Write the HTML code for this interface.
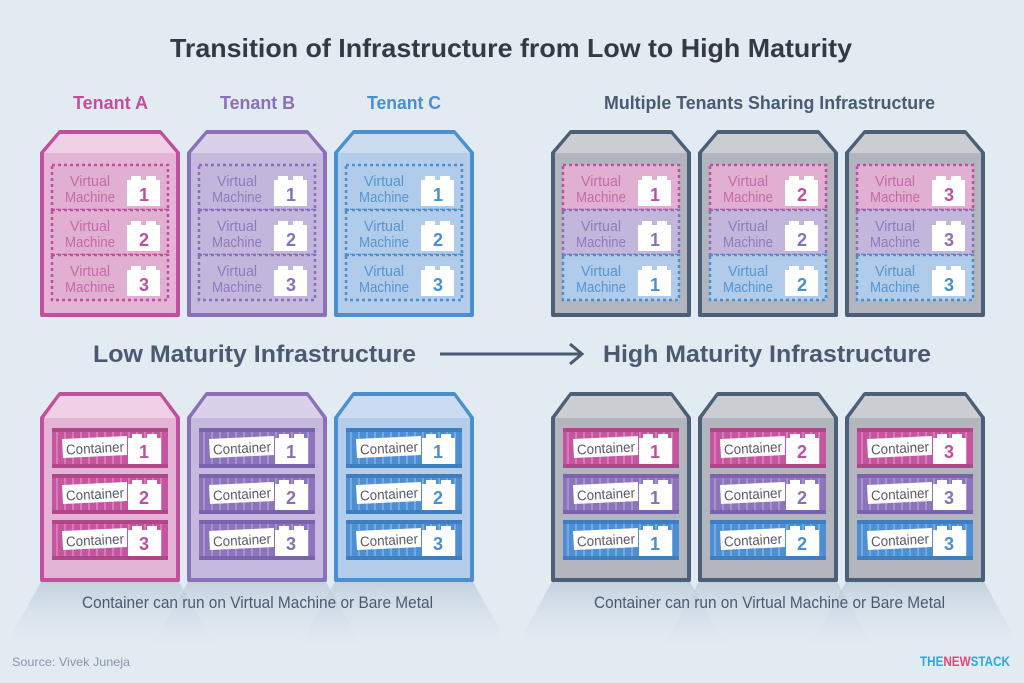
<!DOCTYPE html>
<html><head><meta charset="utf-8"><style>
body{margin:0;background:#e2eaf2}
svg{display:block}
text{font-family:"Liberation Sans",sans-serif}
.vm{font-size:15px;text-anchor:middle}
.n{font-size:18px;font-weight:bold;text-anchor:middle}
.ct{font-size:14px;fill:#5a5a6a;text-anchor:middle}
.pk{fill:#c24f9b}.pu{fill:#8a70b8}.bl{fill:#4a8fd0}
.vpk{fill:#c56aa8}.vpu{fill:#8f7bbd}.vbl{fill:#5596d2}
</style></head><body>
<svg width="1024" height="683" viewBox="0 0 1024 683" xmlns="http://www.w3.org/2000/svg">
<defs>
<linearGradient id="sh" x1="0" y1="0" x2="0" y2="1"><stop offset="0" stop-color="#b9c8d6" stop-opacity=".8"/><stop offset="1" stop-color="#e2eaf2" stop-opacity="0"/></linearGradient>
<symbol id="lego" overflow="visible"><rect x="0" y="4" width="33" height="26" fill="#fff"/><rect x="4" y="0" width="10" height="5" fill="#fff"/><rect x="19" y="0" width="10" height="5" fill="#fff"/></symbol>
<symbol id="topP" overflow="visible"><path d="M18,0H118L136,21V183H0V21Z" fill="#e3b4d6" stroke="#c24f9b" stroke-width="4" stroke-linejoin="round"/><path d="M18,2H118L134,21H2Z" fill="#efd0e6"/></symbol>
<symbol id="topU" overflow="visible"><path d="M18,0H118L136,21V183H0V21Z" fill="#c5b9de" stroke="#8a70b8" stroke-width="4" stroke-linejoin="round"/><path d="M18,2H118L134,21H2Z" fill="#d9d0ea"/></symbol>
<symbol id="topB" overflow="visible"><path d="M18,0H118L136,21V183H0V21Z" fill="#b4cdea" stroke="#4a8fd0" stroke-width="4" stroke-linejoin="round"/><path d="M18,2H118L134,21H2Z" fill="#ccdcf0"/></symbol>
<symbol id="topG" overflow="visible"><path d="M18,0H118L136,21V183H0V21Z" fill="#b2b5bd" stroke="#4b5f78" stroke-width="4" stroke-linejoin="round"/><path d="M18,2H118L134,21H2Z" fill="#cbcdd3"/></symbol>
<symbol id="vmP" overflow="visible"><rect x="10" y="0" width="116" height="45" fill="#e1afd2" stroke="#c24f9b" stroke-width="2.5" stroke-dasharray="3 3"/><use href="#lego" x="85" y="11"/></symbol>
<symbol id="vmU" overflow="visible"><rect x="10" y="0" width="116" height="45" fill="#c3b6dc" stroke="#8a70b8" stroke-width="2.5" stroke-dasharray="3 3"/><use href="#lego" x="85" y="11"/></symbol>
<symbol id="vmB" overflow="visible"><rect x="10" y="0" width="116" height="45" fill="#b1cbea" stroke="#4a8fd0" stroke-width="2.5" stroke-dasharray="3 3"/><use href="#lego" x="85" y="11"/></symbol>
<symbol id="botP" overflow="visible"><path d="M18,0H118L136,24V186H0V24Z" fill="#e3b4d6" stroke="#c24f9b" stroke-width="4" stroke-linejoin="round"/><path d="M18,2H118L134,24H2Z" fill="#efd0e6"/></symbol>
<symbol id="botU" overflow="visible"><path d="M18,0H118L136,24V186H0V24Z" fill="#c5b9de" stroke="#8a70b8" stroke-width="4" stroke-linejoin="round"/><path d="M18,2H118L134,24H2Z" fill="#d9d0ea"/></symbol>
<symbol id="botB" overflow="visible"><path d="M18,0H118L136,24V186H0V24Z" fill="#b4cdea" stroke="#4a8fd0" stroke-width="4" stroke-linejoin="round"/><path d="M18,2H118L134,24H2Z" fill="#ccdcf0"/></symbol>
<symbol id="botG" overflow="visible"><path d="M18,0H118L136,24V186H0V24Z" fill="#b2b5bd" stroke="#4b5f78" stroke-width="4" stroke-linejoin="round"/><path d="M18,2H118L134,24H2Z" fill="#cbcdd3"/></symbol>
<pattern id="rP" width="8" height="40" patternUnits="userSpaceOnUse"><rect width="8" height="40" fill="#c5559f"/><rect x="6" width="2" height="40" fill="#d77ab8"/></pattern>
<pattern id="rU" width="8" height="40" patternUnits="userSpaceOnUse"><rect width="8" height="40" fill="#8c74bd"/><rect x="6" width="2" height="40" fill="#a593d0"/></pattern>
<pattern id="rB" width="8" height="40" patternUnits="userSpaceOnUse"><rect width="8" height="40" fill="#4d8fd2"/><rect x="6" width="2" height="40" fill="#75aae0"/></pattern>
<symbol id="cP" overflow="visible"><rect x="10" y="0" width="116" height="40" fill="url(#rP)"/><rect x="10" y="0" width="116" height="4" fill="#b04688"/><rect x="10" y="36" width="116" height="4" fill="#b04688"/><path d="M20,11L85,8V27L21,30Z" fill="#fff"/><use href="#lego" x="86" y="6"/></symbol>
<symbol id="cU" overflow="visible"><rect x="10" y="0" width="116" height="40" fill="url(#rU)"/><rect x="10" y="0" width="116" height="4" fill="#7a62ad"/><rect x="10" y="36" width="116" height="4" fill="#7a62ad"/><path d="M20,11L85,8V27L21,30Z" fill="#fff"/><use href="#lego" x="86" y="6"/></symbol>
<symbol id="cB" overflow="visible"><rect x="10" y="0" width="116" height="40" fill="url(#rB)"/><rect x="10" y="0" width="116" height="4" fill="#3d7dc0"/><rect x="10" y="36" width="116" height="4" fill="#3d7dc0"/><path d="M20,11L85,8V27L21,30Z" fill="#fff"/><use href="#lego" x="86" y="6"/></symbol>
<symbol id="shd" overflow="visible"><path d="M0,0H136L176,72H-40Z" fill="url(#sh)"/></symbol>
<symbol id="vmt" overflow="visible"></symbol>
</defs>
<rect width="1024" height="683" fill="#e2eaf2"/>
<text x="170" y="57" textLength="682" lengthAdjust="spacingAndGlyphs" style="font-size:26px;font-weight:bold" fill="#333a44">Transition of Infrastructure from Low to High Maturity</text>
<g style="font-size:18px;font-weight:bold" lengthAdjust="spacingAndGlyphs">
<text x="73" y="109" class="pk" textLength="75" lengthAdjust="spacingAndGlyphs">Tenant A</text><text x="220" y="109" class="pu" textLength="75" lengthAdjust="spacingAndGlyphs">Tenant B</text><text x="367" y="109" class="bl" textLength="74" lengthAdjust="spacingAndGlyphs">Tenant C</text>
<text x="604" y="109" fill="#4a5a70" textLength="331" lengthAdjust="spacingAndGlyphs">Multiple Tenants Sharing Infrastructure</text></g>

<use href="#shd" x="42" y="580"/><use href="#shd" x="189" y="580"/><use href="#shd" x="336" y="580"/>
<use href="#shd" x="553" y="580"/><use href="#shd" x="700" y="580"/><use href="#shd" x="847" y="580"/>

<!-- TOP LEFT -->
<g transform="translate(42,132)"><use href="#topP"/>
<use href="#vmP" y="33"/><use href="#vmP" y="78"/><use href="#vmP" y="123"/>
<g class="vm vpk"><text x="48" y="54" textLength="40" lengthAdjust="spacingAndGlyphs">Virtual</text><text x="48" y="70" textLength="50" lengthAdjust="spacingAndGlyphs">Machine</text><text x="48" y="99" textLength="40" lengthAdjust="spacingAndGlyphs">Virtual</text><text x="48" y="115" textLength="50" lengthAdjust="spacingAndGlyphs">Machine</text><text x="48" y="144" textLength="40" lengthAdjust="spacingAndGlyphs">Virtual</text><text x="48" y="160" textLength="50" lengthAdjust="spacingAndGlyphs">Machine</text></g>
<g class="n pk"><text x="102" y="69">1</text><text x="102" y="114">2</text><text x="102" y="159">3</text></g></g>
<g transform="translate(189,132)"><use href="#topU"/>
<use href="#vmU" y="33"/><use href="#vmU" y="78"/><use href="#vmU" y="123"/>
<g class="vm vpu"><text x="48" y="54" textLength="40" lengthAdjust="spacingAndGlyphs">Virtual</text><text x="48" y="70" textLength="50" lengthAdjust="spacingAndGlyphs">Machine</text><text x="48" y="99" textLength="40" lengthAdjust="spacingAndGlyphs">Virtual</text><text x="48" y="115" textLength="50" lengthAdjust="spacingAndGlyphs">Machine</text><text x="48" y="144" textLength="40" lengthAdjust="spacingAndGlyphs">Virtual</text><text x="48" y="160" textLength="50" lengthAdjust="spacingAndGlyphs">Machine</text></g>
<g class="n pu"><text x="102" y="69">1</text><text x="102" y="114">2</text><text x="102" y="159">3</text></g></g>
<g transform="translate(336,132)"><use href="#topB"/>
<use href="#vmB" y="33"/><use href="#vmB" y="78"/><use href="#vmB" y="123"/>
<g class="vm vbl"><text x="48" y="54" textLength="40" lengthAdjust="spacingAndGlyphs">Virtual</text><text x="48" y="70" textLength="50" lengthAdjust="spacingAndGlyphs">Machine</text><text x="48" y="99" textLength="40" lengthAdjust="spacingAndGlyphs">Virtual</text><text x="48" y="115" textLength="50" lengthAdjust="spacingAndGlyphs">Machine</text><text x="48" y="144" textLength="40" lengthAdjust="spacingAndGlyphs">Virtual</text><text x="48" y="160" textLength="50" lengthAdjust="spacingAndGlyphs">Machine</text></g>
<g class="n bl"><text x="102" y="69">1</text><text x="102" y="114">2</text><text x="102" y="159">3</text></g></g>

<!-- TOP RIGHT -->
<g transform="translate(553,132)"><use href="#topG"/>
<use href="#vmP" y="33"/><use href="#vmU" y="78"/><use href="#vmB" y="123"/>
<text class="vm vpk" x="48" y="54" textLength="40" lengthAdjust="spacingAndGlyphs">Virtual</text><text class="vm vpk" x="48" y="70" textLength="50" lengthAdjust="spacingAndGlyphs">Machine</text><text class="vm vpu" x="48" y="99" textLength="40" lengthAdjust="spacingAndGlyphs">Virtual</text><text class="vm vpu" x="48" y="115" textLength="50" lengthAdjust="spacingAndGlyphs">Machine</text><text class="vm vbl" x="48" y="144" textLength="40" lengthAdjust="spacingAndGlyphs">Virtual</text><text class="vm vbl" x="48" y="160" textLength="50" lengthAdjust="spacingAndGlyphs">Machine</text>
<text class="n pk" x="102" y="69">1</text><text class="n pu" x="102" y="114">1</text><text class="n bl" x="102" y="159">1</text></g>
<g transform="translate(700,132)"><use href="#topG"/>
<use href="#vmP" y="33"/><use href="#vmU" y="78"/><use href="#vmB" y="123"/>
<text class="vm vpk" x="48" y="54" textLength="40" lengthAdjust="spacingAndGlyphs">Virtual</text><text class="vm vpk" x="48" y="70" textLength="50" lengthAdjust="spacingAndGlyphs">Machine</text><text class="vm vpu" x="48" y="99" textLength="40" lengthAdjust="spacingAndGlyphs">Virtual</text><text class="vm vpu" x="48" y="115" textLength="50" lengthAdjust="spacingAndGlyphs">Machine</text><text class="vm vbl" x="48" y="144" textLength="40" lengthAdjust="spacingAndGlyphs">Virtual</text><text class="vm vbl" x="48" y="160" textLength="50" lengthAdjust="spacingAndGlyphs">Machine</text>
<text class="n pk" x="102" y="69">2</text><text class="n pu" x="102" y="114">2</text><text class="n bl" x="102" y="159">2</text></g>
<g transform="translate(847,132)"><use href="#topG"/>
<use href="#vmP" y="33"/><use href="#vmU" y="78"/><use href="#vmB" y="123"/>
<text class="vm vpk" x="48" y="54" textLength="40" lengthAdjust="spacingAndGlyphs">Virtual</text><text class="vm vpk" x="48" y="70" textLength="50" lengthAdjust="spacingAndGlyphs">Machine</text><text class="vm vpu" x="48" y="99" textLength="40" lengthAdjust="spacingAndGlyphs">Virtual</text><text class="vm vpu" x="48" y="115" textLength="50" lengthAdjust="spacingAndGlyphs">Machine</text><text class="vm vbl" x="48" y="144" textLength="40" lengthAdjust="spacingAndGlyphs">Virtual</text><text class="vm vbl" x="48" y="160" textLength="50" lengthAdjust="spacingAndGlyphs">Machine</text>
<text class="n pk" x="102" y="69">3</text><text class="n pu" x="102" y="114">3</text><text class="n bl" x="102" y="159">3</text></g>

<!-- middle -->
<g style="font-size:24px;font-weight:bold" fill="#4a5a70">
<text x="93" y="362" textLength="323" lengthAdjust="spacingAndGlyphs">Low Maturity Infrastructure</text>
<text x="603" y="362" textLength="328" lengthAdjust="spacingAndGlyphs">High Maturity Infrastructure</text></g>
<line x1="440" y1="354" x2="580" y2="354" stroke="#4a5a70" stroke-width="3"/>
<path d="M570,344L582,354L570,364" fill="none" stroke="#4a5a70" stroke-width="3"/>

<!-- BOTTOM LEFT -->
<g transform="translate(42,394)"><use href="#botP"/>
<use href="#cP" y="34"/><use href="#cP" y="80"/><use href="#cP" y="126"/>
<g class="ct"><text x="53" y="59" transform="rotate(-3 53 55)" textLength="58" lengthAdjust="spacingAndGlyphs">Container</text><text x="53" y="105" transform="rotate(-3 53 101)" textLength="58" lengthAdjust="spacingAndGlyphs">Container</text><text x="53" y="151" transform="rotate(-3 53 147)" textLength="58" lengthAdjust="spacingAndGlyphs">Container</text></g>
<g class="n pk"><text x="102" y="64">1</text><text x="102" y="110">2</text><text x="102" y="156">3</text></g></g>
<g transform="translate(189,394)"><use href="#botU"/>
<use href="#cU" y="34"/><use href="#cU" y="80"/><use href="#cU" y="126"/>
<g class="ct"><text x="53" y="59" transform="rotate(-3 53 55)" textLength="58" lengthAdjust="spacingAndGlyphs">Container</text><text x="53" y="105" transform="rotate(-3 53 101)" textLength="58" lengthAdjust="spacingAndGlyphs">Container</text><text x="53" y="151" transform="rotate(-3 53 147)" textLength="58" lengthAdjust="spacingAndGlyphs">Container</text></g>
<g class="n pu"><text x="102" y="64">1</text><text x="102" y="110">2</text><text x="102" y="156">3</text></g></g>
<g transform="translate(336,394)"><use href="#botB"/>
<use href="#cB" y="34"/><use href="#cB" y="80"/><use href="#cB" y="126"/>
<g class="ct"><text x="53" y="59" transform="rotate(-3 53 55)" textLength="58" lengthAdjust="spacingAndGlyphs">Container</text><text x="53" y="105" transform="rotate(-3 53 101)" textLength="58" lengthAdjust="spacingAndGlyphs">Container</text><text x="53" y="151" transform="rotate(-3 53 147)" textLength="58" lengthAdjust="spacingAndGlyphs">Container</text></g>
<g class="n bl"><text x="102" y="64">1</text><text x="102" y="110">2</text><text x="102" y="156">3</text></g></g>

<!-- BOTTOM RIGHT -->
<g transform="translate(553,394)"><use href="#botG"/>
<use href="#cP" y="34"/><use href="#cU" y="80"/><use href="#cB" y="126"/>
<g class="ct"><text x="53" y="59" transform="rotate(-3 53 55)" textLength="58" lengthAdjust="spacingAndGlyphs">Container</text><text x="53" y="105" transform="rotate(-3 53 101)" textLength="58" lengthAdjust="spacingAndGlyphs">Container</text><text x="53" y="151" transform="rotate(-3 53 147)" textLength="58" lengthAdjust="spacingAndGlyphs">Container</text></g>
<text class="n pk" x="102" y="64">1</text><text class="n pu" x="102" y="110">1</text><text class="n bl" x="102" y="156">1</text></g>
<g transform="translate(700,394)"><use href="#botG"/>
<use href="#cP" y="34"/><use href="#cU" y="80"/><use href="#cB" y="126"/>
<g class="ct"><text x="53" y="59" transform="rotate(-3 53 55)" textLength="58" lengthAdjust="spacingAndGlyphs">Container</text><text x="53" y="105" transform="rotate(-3 53 101)" textLength="58" lengthAdjust="spacingAndGlyphs">Container</text><text x="53" y="151" transform="rotate(-3 53 147)" textLength="58" lengthAdjust="spacingAndGlyphs">Container</text></g>
<text class="n pk" x="102" y="64">2</text><text class="n pu" x="102" y="110">2</text><text class="n bl" x="102" y="156">2</text></g>
<g transform="translate(847,394)"><use href="#botG"/>
<use href="#cP" y="34"/><use href="#cU" y="80"/><use href="#cB" y="126"/>
<g class="ct"><text x="53" y="59" transform="rotate(-3 53 55)" textLength="58" lengthAdjust="spacingAndGlyphs">Container</text><text x="53" y="105" transform="rotate(-3 53 101)" textLength="58" lengthAdjust="spacingAndGlyphs">Container</text><text x="53" y="151" transform="rotate(-3 53 147)" textLength="58" lengthAdjust="spacingAndGlyphs">Container</text></g>
<text class="n pk" x="102" y="64">3</text><text class="n pu" x="102" y="110">3</text><text class="n bl" x="102" y="156">3</text></g>

<g style="font-size:17px" fill="#4a5a70">
<text x="82" y="608" textLength="351" lengthAdjust="spacingAndGlyphs">Container can run on Virtual Machine or Bare Metal</text>
<text x="594" y="608" textLength="351" lengthAdjust="spacingAndGlyphs">Container can run on Virtual Machine or Bare Metal</text></g>
<text x="12" y="666" style="font-size:12px" fill="#8a96a6" textLength="118" lengthAdjust="spacingAndGlyphs">Source: Vivek Juneja</text>
<text x="920" y="666" style="font-size:14px;font-weight:bold" fill="#2aa9e0" textLength="90" lengthAdjust="spacingAndGlyphs">THE<tspan fill="#e8457f">NEW</tspan>STACK</text>
</svg>
</body></html>
